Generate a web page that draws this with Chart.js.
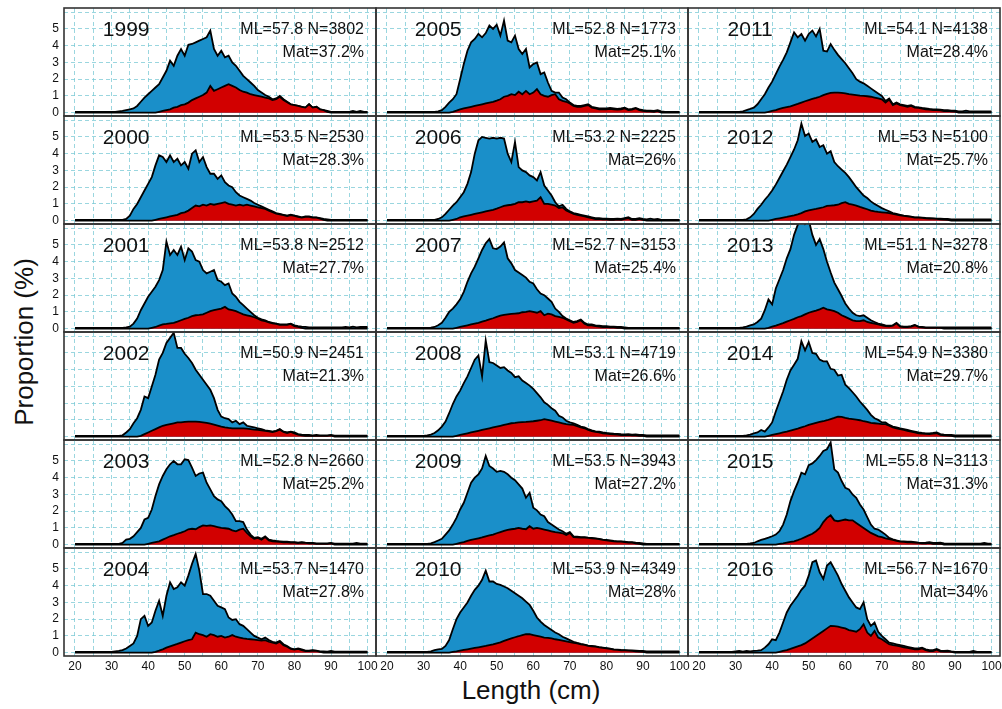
<!DOCTYPE html>
<html>
<head>
<meta charset="utf-8">
<script src="https://cdn.jsdelivr.net/npm/chart.js@4.4.0/dist/chart.umd.min.js"></script>
<style>
body{margin:0;background:#fff;width:1002px;height:709px;overflow:hidden;position:relative;font-family:"Liberation Sans",Arial,sans-serif;color:#111}
#ytitle{position:absolute;left:24px;top:342px;transform:translate(-50%,-50%) rotate(-90deg);font-size:26px;white-space:nowrap}
#xtitle{position:absolute;left:531px;top:690px;transform:translate(-50%,-50%);font-size:26px;white-space:nowrap}
</style>
</head>
<body>
<div id="ytitle">Proportion (%)</div>
<div id="xtitle">Length (cm)</div>
<script>
// length classes (cm)
var lengths = [20,21,22,23,24,25,26,27,28,29,30,31,32,33,34,35,36,37,38,39,40,41,42,43,44,45,46,47,48,49,
  50,51,52,53,54,55,56,57,58,59,60,61,62,63,64,65,66,67,68,69,70,71,72,73,74,75,76,77,78,79,
  80,81,82,83,84,85,86,87,88,89,90,91,92,93,94,95,96,97,98,99,100];

var years = [1999,2000,2001,2002,2003,2004,2005,2006,2007,2008,2009,2010,2011,2012,2013,2014,2015,2016];
var meanLength = [57.8,53.5,53.8,50.9,52.8,53.7,52.8,53.2,52.7,53.1,53.5,53.9,54.1,53,51.1,54.9,55.8,56.7];
var sampleN = [3802,2530,2512,2451,2660,1470,1773,2225,3153,4719,3943,4349,4138,5100,3278,3380,3113,1670];
var matPct = [37.2,28.3,27.7,21.3,25.2,27.8,25.1,26,25.4,26.6,27.2,28,28.4,25.7,20.8,29.7,31.3,34];

var yTicks = [0,1,2,3,4,5];
var xTickLabels = [20,30,40,50,60,70,80,90,100];

// all fish (blue) and mature fish (red), % per cm class
var blue1999 = [.05,.05,.05,.05,.05,.05,.05,.05,.05,.05, .05,.05,.08,.1,.15,.2,.25,.4,.65,.9, 1.1,1.3,1.5,1.7,2.1,2.5,3.1,2.8,3.4,3.8, 3.4,4.05,4.1,4.2,4.3,4.4,4.5,4.9,3.8,3.4, 3.7,3.3,3.4,3.0,2.8,2.5,2.2,2.0,1.8,1.6, 1.35,1.2,1.05,.95,.8,.85,1.0,.8,.65,.5, .45,.4,.35,.3,.5,.3,.35,.2,.15,.1, .05,.05,.05,.05,.05,.05,.1,.05,.1,.05,.05];
var red1999 = [0,0,0,0,0,0,0,0,0,0, 0,0,0,0,0,0,0,0,0,0, 0,0,0,.05,.1,.15,.2,.3,.35,.45, .5,.6,.75,.85,.95,1.05,1.2,1.6,1.3,1.4, 1.5,1.6,1.7,1.6,1.5,1.35,1.25,1.2,1.1,1.05, 1.0,.95,.9,.85,.75,.8,.95,.75,.62,.5, .45,.4,.35,.3,.5,.3,.35,.2,.15,.05, 0,0,0,0,0,0,0,0,0,0,0];

var blue2000 = [.05,.05,.05,.05,.05,.05,.05,.05,.05,.05, .05,.05,.05,.05,.1,.3,.7,1.0,1.4,1.8, 2.2,2.6,3.3,3.9,3.8,3.5,3.9,3.5,3.7,3.3, 3.5,3.1,4.0,4.2,3.5,3.8,3.2,2.8,2.8,2.5, 2.7,2.3,2.1,2.0,1.7,1.5,1.4,1.3,1.2,1.05, .95,.85,.75,.65,.55,.45,.4,.35,.3,.35, .3,.25,.2,.25,.25,.2,.2,.15,.1,.08, .05,.05,.05,.05,.05,.05,.05,.05,.05,.05,.05];
var red2000 = [0,0,0,0,0,0,0,0,0,0, 0,0,0,0,0,0,0,0,0,0, 0,0,.05,.1,.15,.2,.25,.3,.35,.45, .5,.6,.75,.9,.85,.95,.9,1.0,.95,1.0, 1.05,1.1,1.0,.95,.9,.95,.9,.95,.9,.85, .8,.75,.7,.6,.5,.42,.38,.33,.28,.33, .28,.22,.18,.22,.22,.18,.18,.12,.05,0, 0,0,0,0,0,0,0,0,0,0,0];

var blue2001 = [.05,.05,.05,.05,.05,.05,.05,.05,.05,.05, .05,.05,.05,.05,.08,.12,.3,.6,1.1,1.5, 1.9,2.2,2.5,2.9,3.5,5.2,4.4,4.7,4.4,4.9, 4.1,4.8,4.6,4.1,4.0,3.5,3.3,3.4,3.5,2.9, 2.8,2.6,2.7,2.1,1.9,1.6,1.4,1.2,1.0,.8, .65,.55,.5,.4,.35,.3,.25,.25,.25,.3, .2,.15,.12,.1,.08,.08,.08,.08,.08,.08, .08,.08,.08,.08,.1,.07,.12,.08,.1,.1,.1];
var red2001 = [0,0,0,0,0,0,0,0,0,0, 0,0,0,0,0,0,0,0,0,0, 0,.05,.1,.18,.25,.28,.32,.35,.42,.5, .58,.65,.75,.8,.82,.85,.95,1.05,1.1,1.15, 1.2,1.3,1.15,1.1,1.05,.95,.85,.8,.75,.68, .6,.5,.45,.38,.32,.28,.22,.22,.22,.28, .15,.1,.05,0,0,0,0,0,0,0, 0,0,0,0,0,0,0,0,0,0,0];

var blue2002 = [.05,.05,.05,.05,.05,.05,.05,.05,.05,.05, .05,.05,.05,.08,.25,.45,.8,1.1,1.6,2.4, 2.3,3.0,3.7,4.6,5.0,5.6,5.9,6.2,5.3,5.3, 4.95,4.7,4.4,4.0,3.7,3.4,3.1,2.8,2.3,1.6, 1.2,1.1,1.05,.85,.95,.75,.85,.65,.6,.55, .5,.45,.38,.35,.3,.35,.45,.3,.25,.3, .25,.15,.12,.1,.1,.08,.1,.08,.08,.08, .1,.06,.06,.06,.06,.06,.06,.06,.06,.06,.06];
var red2002 = [0,0,0,0,0,0,0,0,0,0, 0,0,0,0,0,0,0,0,.05,.15, .25,.35,.45,.55,.65,.7,.75,.8,.85,.85, .88,.9,.9,.9,.88,.85,.82,.78,.72,.66, .6,.55,.52,.5,.5,.5,.5,.48,.45,.42, .4,.38,.35,.32,.28,.33,.42,.28,.22,.28, .2,.12,.08,.05,.05,.05,.05,.05,.05,.05, .08,0,0,0,0,0,0,0,0,0,0];

var blue2003 = [.05,.05,.05,.05,.05,.05,.05,.05,.05,.05, .05,.05,.05,.1,.3,.35,.5,.75,1.0,1.5, 1.6,2.1,2.9,3.6,4.1,4.5,4.8,5.0,4.8,4.8, 5.1,5.05,4.6,4.1,4.25,4.3,3.7,3.3,2.9,2.7, 2.6,2.3,2.1,1.8,1.4,1.4,1.35,.9,.6,.4, .45,.35,.5,.3,.25,.22,.2,.18,.18,.15, .15,.12,.15,.12,.1,.1,.08,.08,.08,.08, .1,.06,.06,.06,.06,.06,.06,.1,.06,.06,.06];
var red2003 = [0,0,0,0,0,0,0,0,0,0, 0,0,0,0,0,0,0,0,0,0, .05,.1,.15,.2,.3,.4,.5,.57,.65,.72, .8,.92,.95,.92,1.05,1.15,1.12,1.15,1.1,1.05, 1.0,.98,.95,.85,.8,.9,.95,.7,.5,.35, .4,.3,.45,.25,.2,.18,.16,.14,.14,.12, .12,.1,.12,.1,.08,.08,.05,.05,.05,.05, .08,0,0,0,0,0,0,0,0,0,0];

var blue2004 = [.05,.05,.05,.05,.05,.05,.05,.05,.05,.05, .05,.08,.1,.15,.25,.4,.55,1.0,2.0,2.2, 1.6,1.8,2.5,3.1,2.2,3.4,4.2,3.8,3.9,4.2, 4.0,4.6,5.3,5.9,4.9,3.5,3.5,3.4,3.1,2.8, 2.7,2.6,2.1,1.95,2.0,1.7,1.6,1.4,1.2,1.0, .9,.8,.9,.75,.65,.6,.7,.5,.4,.25, .2,.25,.2,.12,.12,.15,.12,.08,.08,.06, .1,.06,.06,.06,.06,.06,.06,.06,.06,.06,.06];
var red2004 = [0,0,0,0,0,0,0,0,0,0, 0,0,0,0,0,0,0,0,0,0, 0,0,.05,.12,.2,.3,.38,.45,.52,.6, .68,.75,.8,1.2,1.1,1.05,.95,1.1,1.05,.95, 1.0,.9,.95,1.05,.95,.9,.85,.82,.8,.78, .75,.72,.75,.65,.6,.55,.65,.45,.35,.22, .18,.22,.15,.1,.1,.12,.1,.05,0,0, 0,0,0,0,0,0,0,0,0,0,0];

var blue2005 = [.05,.05,.05,.05,.05,.05,.05,.05,.05,.05, .05,.05,.05,.05,.08,.15,.35,.6,.8,1.1, 2.0,2.9,3.7,4.2,4.4,4.7,4.5,4.75,5.2,5.0, 5.25,4.6,5.5,4.3,4.2,4.6,3.8,3.5,3.8,2.7, 2.9,3.0,2.3,2.4,1.8,1.3,1.2,1.2,.9,.8, .6,.45,.4,.4,.45,.5,.35,.3,.25,.25, .25,.28,.25,.22,.25,.3,.2,.22,.28,.2, .15,.12,.12,.1,.15,.08,.05,.05,.05,.05,.05];
var red2005 = [0,0,0,0,0,0,0,0,0,0, 0,0,0,0,0,0,0,0,.05,.12, .2,.25,.3,.35,.4,.45,.5,.55,.6,.65, .72,.8,.95,1.0,1.1,1.05,1.25,1.1,1.3,1.1, 1.2,1.4,1.1,1.0,.95,1.05,1.1,.8,.7,.65, .55,.4,.35,.35,.4,.45,.3,.25,.2,.2, .2,.22,.2,.18,.2,.25,.15,.18,.25,.15, .1,.08,.08,.05,.1,0,0,0,0,0,0];

var blue2006 = [.05,.05,.05,.05,.05,.05,.05,.05,.05,.05, .05,.05,.05,.05,.1,.2,.4,.65,.9,1.1, 1.4,1.7,2.2,2.9,4.0,4.8,5.0,4.95,4.9,4.95, 4.9,4.95,4.9,4.0,3.5,4.7,3.2,3.0,2.9,2.7, 2.6,2.4,2.9,2.1,1.8,1.5,1.1,.85,.95,.7, .55,.45,.4,.35,.3,.25,.2,.15,.15,.12, .12,.1,.1,.12,.1,.15,.2,.1,.1,.15, .1,.08,.12,.08,.1,.05,.05,.05,.05,.05,.05];
var red2006 = [0,0,0,0,0,0,0,0,0,0, 0,0,0,0,0,0,0,0,.05,.1, .2,.25,.3,.35,.4,.45,.5,.55,.6,.65, .72,.8,.88,.92,.95,1.0,1.1,1.1,1.15,1.1, 1.15,1.2,1.4,1.0,1.0,.95,.9,.75,.8,.6, .5,.4,.35,.3,.25,.2,.15,.1,.1,.08, .08,.05,.05,.08,.05,.1,.15,.05,.05,.1, .05,0,0,0,0,0,0,0,0,0,0];

var blue2007 = [.05,.05,.05,.05,.05,.05,.05,.05,.05,.05, .05,.05,.06,.1,.2,.35,.65,1.0,1.2,1.45, 1.75,2.2,2.8,3.3,3.7,4.2,4.7,5.1,5.35,4.8, 4.75,4.9,5.15,4.2,3.9,3.5,3.35,3.2,3.05,2.8, 2.7,2.35,2.1,2.0,1.8,1.6,1.2,1.0,.75,.6, .5,.4,.45,.55,.35,.25,.25,.2,.18,.15, .15,.12,.12,.1,.1,.08,.05,.05,.05,.05, .05,.05,.05,.05,.05,.05,.05,.05,.05,.05,.05];
var red2007 = [0,0,0,0,0,0,0,0,0,0, 0,0,0,0,0,0,0,0,0,.05, .1,.15,.2,.25,.3,.35,.42,.48,.55,.62, .7,.78,.82,.85,.88,.9,.92,.98,1.0,1.05, 1.0,.95,1.05,.8,.9,.85,.75,.7,.65,.55, .45,.35,.4,.5,.3,.2,.2,.15,.12,.1, .1,.08,.08,.05,.05,0,0,0,0,0, 0,0,0,0,0,0,0,0,0,0,0];

var blue2008 = [.05,.05,.05,.05,.05,.05,.05,.05,.05,.05, .05,.08,.12,.22,.38,.6,.9,1.4,1.95,2.4, 2.75,3.2,3.6,4.1,4.6,4.85,3.6,5.75,4.45,4.4, 4.25,4.1,4.15,3.95,3.8,3.55,3.6,3.35,3.2,3.05, 2.85,2.6,2.35,2.05,1.9,1.7,1.55,1.25,1.15,.95, .85,.8,.7,.6,.55,.45,.38,.32,.3,.25, .22,.2,.18,.17,.15,.14,.15,.12,.13,.1, .1,.08,.08,.08,.08,.08,.08,.08,.08,.08,.08];
var red2008 = [0,0,0,0,0,0,0,0,0,0, 0,0,0,0,0,0,0,0,0,.05, .1,.15,.2,.25,.3,.35,.4,.45,.5,.55, .6,.65,.7,.75,.8,.82,.85,.87,.88,.9, .92,.95,.98,1.05,1.0,.95,.9,.85,.8,.75, .72,.7,.62,.55,.5,.4,.33,.28,.25,.2, .18,.15,.13,.12,.1,.1,.1,.08,.08,.05, .05,0,0,0,0,0,0,0,0,0,0];

var blue2009 = [.05,.05,.05,.05,.05,.05,.05,.05,.05,.05, .05,.05,.08,.15,.25,.35,.6,.85,1.2,1.6, 2.1,2.5,3.1,3.7,4.0,4.2,4.55,5.3,4.7,4.55, 4.35,4.4,4.35,4.2,4.0,3.85,3.6,3.35,2.8,3.1, 2.2,2.05,1.8,1.7,1.35,1.2,1.05,.9,.8,.65, .75,.5,.48,.45,.45,.42,.4,.38,.35,.3, .28,.25,.22,.2,.2,.18,.15,.15,.12,.1, .08,.05,.05,.05,.05,.05,.05,.05,.05,.05,.05];
var red2009 = [0,0,0,0,0,0,0,0,0,0, 0,0,0,0,0,0,0,0,0,.05, .1,.15,.22,.28,.33,.38,.43,.5,.55,.6, .68,.75,.82,.88,.92,.95,1.0,.95,.92,1.1, .95,1.0,.95,.9,.85,.8,.75,.72,.68,.58, .7,.45,.44,.42,.42,.4,.38,.36,.33,.28, .26,.23,.2,.18,.18,.15,.12,.12,.08,.05, 0,0,0,0,0,0,0,0,0,0,0];

var blue2010 = [.05,.05,.05,.05,.05,.05,.05,.05,.05,.05, .05,.05,.08,.15,.2,.22,.4,.75,1.4,2.0, 2.4,2.7,3.0,3.4,3.75,4.0,4.35,4.9,4.25,4.25, 4.1,4.05,3.95,3.85,3.7,3.55,3.4,3.25,3.05,2.85, 2.5,2.1,1.85,1.65,1.5,1.35,1.2,1.1,.95,.85, .75,.65,.58,.52,.48,.42,.4,.38,.33,.3, .27,.24,.2,.18,.16,.15,.14,.13,.12,.1, .1,.08,.08,.08,.08,.08,.08,.08,.08,.08,.08];
var red2010 = [0,0,0,0,0,0,0,0,0,0, 0,0,0,0,0,0,0,0,.05,.08, .12,.16,.2,.24,.28,.32,.36,.4,.45,.5, .56,.62,.7,.78,.85,.92,.98,1.05,1.1,1.1, 1.05,1.0,.95,.9,.88,.85,.8,.76,.72,.68, .63,.58,.55,.5,.46,.4,.38,.36,.31,.28, .25,.22,.18,.16,.14,.13,.12,.1,.08,.06, .05,0,0,0,0,0,0,0,0,0,0];

var blue2011 = [.05,.05,.05,.05,.05,.05,.05,.05,.05,.05, .05,.05,.08,.15,.22,.3,.5,.8,1.1,1.5, 1.85,2.3,2.75,3.15,3.6,4.2,4.8,4.5,4.7,4.3, 4.7,4.9,4.55,5.0,3.7,3.65,4.1,3.75,3.45,3.2, 2.95,2.65,2.35,2.0,1.85,1.75,1.6,1.45,1.3,1.15, 1.0,.7,.85,.5,.6,.5,.45,.4,.45,.35, .32,.28,.25,.22,.2,.2,.18,.15,.15,.12, .12,.08,.08,.12,.08,.08,.08,.08,.08,.08,.08];
var red2011 = [0,0,0,0,0,0,0,0,0,0, 0,0,0,0,0,0,0,0,0,.05, .1,.15,.22,.28,.33,.38,.45,.52,.6,.68, .75,.82,.88,.95,1.05,1.12,1.18,1.2,1.2,1.18, 1.15,1.1,1.08,1.05,1.02,1.0,.98,.95,.9,.85, .8,.6,.78,.45,.55,.45,.4,.35,.4,.3, .28,.24,.2,.18,.15,.15,.13,.1,.1,.08, .06,0,0,0,0,0,0,0,0,0,0];

var blue2012 = [.05,.05,.05,.05,.05,.05,.05,.05,.05,.05, .05,.05,.05,.08,.2,.4,.7,.95,1.25,1.5, 1.8,2.15,2.55,2.95,3.35,3.8,4.25,4.8,5.8,5.05, 5.2,4.7,4.85,4.4,4.5,4.0,4.15,3.5,3.25,3.05, 2.85,2.6,2.3,2.0,1.75,1.5,1.35,1.15,1.0,.88, .75,.65,.55,.45,.4,.35,.3,.27,.24,.2, .2,.18,.16,.15,.14,.12,.12,.1,.1,.07, .07,.07,.07,.07,.07,.07,.07,.07,.07,.07,.07];
var red2012 = [0,0,0,0,0,0,0,0,0,0, 0,0,0,0,0,0,0,0,0,0, .05,.1,.14,.18,.22,.27,.32,.38,.45,.55, .62,.66,.7,.75,.8,.88,.9,.92,.95,1.05, 1.1,1.0,.95,.9,.82,.75,.68,.6,.55,.52, .5,.48,.45,.4,.36,.32,.28,.25,.22,.18, .18,.16,.14,.12,.12,.1,.08,.06,.05,0, 0,0,0,0,0,0,0,0,0,0,0];

var blue2013 = [.05,.05,.05,.05,.05,.05,.05,.05,.05,.05, .05,.05,.08,.12,.2,.25,.4,.6,1.1,1.75, 1.45,2.4,2.95,3.5,4.2,4.75,5.6,6.2,6.7,6.25, 6.5,5.6,5.0,5.35,4.75,4.0,3.35,2.75,2.35,1.95, 1.5,1.2,.95,.8,.75,.8,.65,.5,.4,.3, .25,.2,.18,.2,.35,.15,.12,.12,.15,.22, .12,.1,.07,.07,.07,.07,.07,.07,.07,.07, .07,.07,.07,.07,.07,.07,.07,.07,.07,.07,.07];
var red2013 = [0,0,0,0,0,0,0,0,0,0, 0,0,0,0,0,0,0,0,0,.05, .12,.18,.25,.33,.42,.5,.58,.68,.75,.85, .95,1.02,1.08,1.15,1.25,1.15,1.1,1.05,.95,.8, .7,.6,.5,.45,.45,.5,.4,.35,.3,.25, .2,.15,.14,.18,.32,.12,.1,.1,.12,.2, .1,.08,.05,.05,.05,.05,.05,0,0,0, 0,0,0,0,0,0,0,0,0,0,0];

var blue2014 = [.05,.05,.05,.05,.05,.05,.05,.05,.05,.05, .05,.05,.05,.08,.12,.2,.25,.4,.3,.55, .85,1.5,2.1,2.7,3.4,3.95,4.3,4.65,5.7,5.15, 5.65,5.0,4.95,4.6,4.5,4.5,4.05,4.0,3.65,3.7, 3.1,2.9,2.65,2.4,2.1,1.85,1.6,1.3,1.1,1.0, .85,.85,.7,.6,.55,.5,.45,.4,.35,.3, .25,.22,.2,.2,.22,.25,.15,.12,.1,.1, .07,.07,.07,.07,.07,.07,.07,.07,.07,.07,.07];
var red2014 = [0,0,0,0,0,0,0,0,0,0, 0,0,0,0,0,0,0,0,0,.05, .1,.15,.2,.25,.3,.36,.42,.48,.55,.62, .7,.76,.82,.88,.92,.98,1.05,1.12,1.2,1.18, 1.12,1.08,1.05,1.02,.98,.92,.88,.82,.8,.78, .75,.75,.65,.55,.5,.45,.4,.35,.3,.25, .2,.18,.16,.15,.18,.2,.1,.08,.06,.05, 0,0,0,0,0,0,0,0,0,0,0];

var blue2015 = [.05,.05,.05,.05,.05,.05,.05,.05,.05,.05, .05,.05,.05,.05,.07,.1,.2,.28,.35,.42, .5,.6,.8,1.2,1.8,2.6,3.2,3.7,4.3,4.2, 4.75,4.85,5.05,5.3,5.6,5.7,6.1,4.5,4.3,3.8, 3.4,3.3,3.0,2.8,2.4,2.1,1.65,1.2,.95,.9, .75,.6,.4,.32,.25,.2,.2,.18,.18,.15, .12,.1,.12,.15,.1,.1,.12,.08,.06,.06, .06,.06,.06,.06,.06,.06,.06,.06,.1,.06,.06];
var red2015 = [0,0,0,0,0,0,0,0,0,0, 0,0,0,0,0,0,0,0,0,0, 0,0,.05,.08,.12,.16,.2,.27,.35,.45, .55,.65,.8,1.0,1.35,1.6,1.75,1.45,1.4,1.45, 1.5,1.45,1.45,1.3,1.15,1.0,.85,.7,.6,.5, .45,.38,.33,.28,.22,.18,.16,.14,.13,.12, .1,.08,.08,.1,.05,.05,.06,0,0,0, 0,0,0,0,0,0,0,0,0,0,0];

var blue2016 = [.05,.05,.05,.05,.05,.05,.05,.05,.05,.05, .08,.1,.06,.1,.08,.1,.12,.15,.3,.5, .8,.75,1.2,1.8,2.4,2.8,3.1,3.4,3.75,4.0, 4.6,5.4,5.5,4.8,4.4,5.2,5.4,5.0,4.6,4.1, 3.7,3.3,3.0,2.7,2.6,3.0,2.0,1.6,1.8,1.25, 1.0,.8,.6,.55,.5,.45,.4,.35,.3,.25, .25,.3,.2,.15,.15,.22,.12,.1,.12,.08, .05,.05,.05,.05,.05,.1,.05,.05,.05,.05,.05];
var red2016 = [0,0,0,0,0,0,0,0,0,0, 0,0,0,0,0,0,0,0,0,0, 0,0,.05,.1,.15,.22,.3,.38,.45,.55, .7,.85,1.0,1.15,1.3,1.45,1.6,1.58,1.55,1.5, 1.45,1.35,1.3,1.25,1.4,1.7,1.2,1.0,1.3,.9, .8,.65,.5,.45,.42,.38,.32,.28,.24,.2, .2,.25,.15,.1,.1,.18,.08,.06,.08,.05, 0,0,0,0,0,0,0,0,0,0,0];

var blueSeries = [blue1999,blue2000,blue2001,blue2002,blue2003,blue2004,blue2005,blue2006,blue2007,
  blue2008,blue2009,blue2010,blue2011,blue2012,blue2013,blue2014,blue2015,blue2016];
var redSeries = [red1999,red2000,red2001,red2002,red2003,red2004,red2005,red2006,red2007,
  red2008,red2009,red2010,red2011,red2012,red2013,red2014,red2015,red2016];

var BLUE = '#1a8fc9';
var RED = '#d20000';
var GRID = 'rgba(120,200,212,0.75)';
var X0 = 64, Y0 = 8, COLW = 312, ROWH = 108;

function toPoints(arr) {
  return arr.map(function (v, k) { return {x: lengths[k], y: v}; });
}

// year + ML/N + Mat text, and the panel frame
var panelText = {
  id: 'panelText',
  afterDatasetsDraw: function (chart, args, opts) {
    var ctx = chart.ctx, a = chart.chartArea, i = opts.idx;
    var xs = chart.scales.x;
    ctx.save();
    ctx.fillStyle = '#111';
    ctx.textBaseline = 'middle';
    ctx.font = '21px "Liberation Sans", Arial, sans-serif';
    ctx.textAlign = 'center';
    ctx.fillText(String(years[i]), xs.getPixelForValue(34), a.top + 22);
    ctx.font = '16px "Liberation Sans", Arial, sans-serif';
    ctx.textAlign = 'right';
    ctx.fillText('ML=' + meanLength[i] + ' N=' + sampleN[i], a.right - 12, a.top + 22);
    ctx.fillText('Mat=' + matPct[i] + '%', a.right - 12, a.top + 45);
    ctx.strokeStyle = '#333';
    ctx.lineWidth = 1.6;
    ctx.strokeRect(a.left, a.top, a.right - a.left, a.bottom - a.top);
    ctx.restore();
  }
};

function makePanel(i) {
  var col = Math.floor(i / 6), row = i % 6;
  var yw = col === 0 ? 38 : 0;
  var xh = row === 5 ? 20 : 0;
  var showY = col === 0 && row !== 3;
  var showX = row === 5;
  var w = COLW + 4 + yw, h = ROWH + 4 + xh;
  var cv = document.createElement('canvas');
  cv.width = w; cv.height = h;
  cv.style.cssText = 'position:absolute;left:' + (X0 + col * COLW - 2 - yw) + 'px;top:' + (Y0 + row * ROWH - 2) +
    'px;width:' + w + 'px;height:' + h + 'px';
  document.body.appendChild(cv);

  new Chart(cv, {
    type: 'line',
    data: {
      datasets: [
        {data: toPoints(redSeries[i]), backgroundColor: RED, borderColor: '#000', borderWidth: 1.8,
          fill: 'origin', pointRadius: 0, tension: 0},
        {data: toPoints(blueSeries[i]), backgroundColor: BLUE, borderColor: '#000', borderWidth: 1.8,
          fill: 'origin', pointRadius: 0, tension: 0}
      ]
    },
    options: {
      responsive: false,
      animation: false,
      devicePixelRatio: 1,
      layout: {padding: 2},
      plugins: {legend: {display: false}, tooltip: {enabled: false}, panelText: {idx: i}},
      scales: {
        x: {
          type: 'linear', min: 17, max: 102.3,
          afterFit: function (s) { s.height = xh; s.paddingLeft = 0; s.paddingRight = 0; },
          ticks: {display: showX, stepSize: 5, includeBounds: false, autoSkip: false, maxRotation: 0,
            padding: 3, color: '#111', font: {size: 12, family: '"Liberation Sans", Arial, sans-serif'},
            callback: function (v) { return xTickLabels.indexOf(v) >= 0 ? String(v) : ''; }},
          grid: {color: GRID, lineWidth: 1, drawTicks: false, borderDash: [4, 3]},
          border: {display: false, dash: [4, 3]}
        },
        y: {
          min: -0.2, max: 6.25,
          afterFit: function (s) { s.width = yw; s.paddingTop = 0; s.paddingBottom = 0; },
          ticks: {display: showY, stepSize: 1, includeBounds: false, autoSkip: false, padding: 5, color: '#111',
            font: {size: 12, family: '"Liberation Sans", Arial, sans-serif'},
            callback: function (v) { return yTicks.indexOf(v) >= 0 ? String(v) : ''; }},
          grid: {color: GRID, lineWidth: 1, drawTicks: false, borderDash: [4, 3]},
          border: {display: false, dash: [4, 3]}
        }
      }
    },
    plugins: [panelText]
  });
}

for (var i = 0; i < years.length; i++) makePanel(i);
</script>
</body>
</html>
